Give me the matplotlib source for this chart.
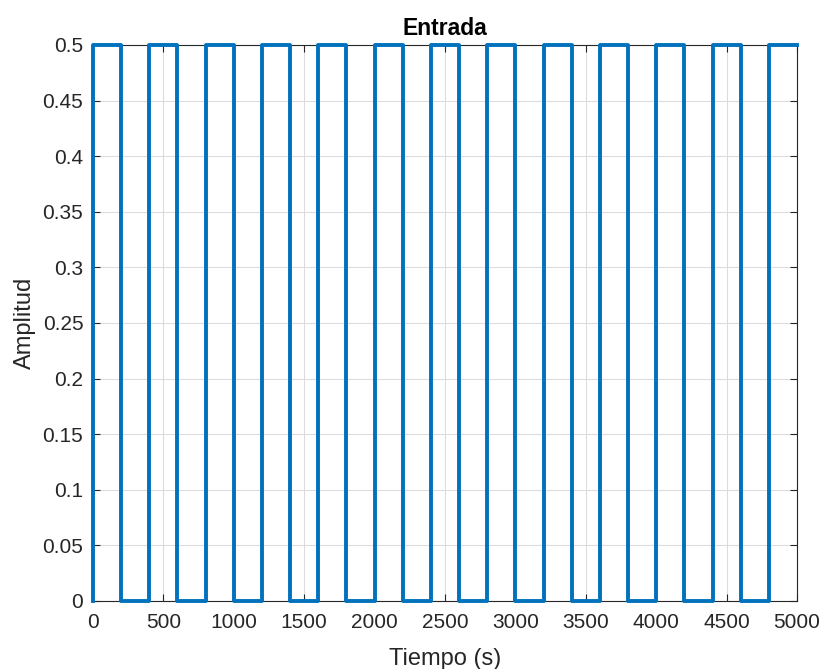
import matplotlib
matplotlib.use("Agg")
import matplotlib.pyplot as plt

plt.rcParams['font.family'] = ['Liberation Sans', 'DejaVu Sans']

# Switching instants of the input pulse train (s) and the level held after each one
switch_times = [0, 0, 200, 400, 600, 800, 1000, 1200, 1400, 1600, 1800, 2000, 2200,
                2400, 2600, 2800, 3000, 3200, 3400, 3600, 3800, 4000, 4200, 4400,
                4600, 4800, 5000]
levels = [0, 0.5, 0, 0.5, 0, 0.5, 0, 0.5, 0, 0.5, 0, 0.5, 0,
          0.5, 0, 0.5, 0, 0.5, 0, 0.5, 0, 0.5, 0, 0.5,
          0, 0.5, 0.5]

x_ticks = [0, 500, 1000, 1500, 2000, 2500, 3000, 3500, 4000, 4500, 5000]
y_ticks = [0, 0.05, 0.1, 0.15, 0.2, 0.25, 0.3, 0.35, 0.4, 0.45, 0.5]
y_labels = ['0', '0.05', '0.1', '0.15', '0.2', '0.25', '0.3', '0.35', '0.4', '0.45', '0.5']

fig = plt.figure(figsize=(8.21, 6.69), dpi=100)
ax = fig.add_axes([93 / 821, 1 - 601 / 669, (797 - 93) / 821, (601 - 45) / 669])

ax.step(switch_times, levels, where='post', color='#0072BD', linewidth=2.8,
        clip_on=False, zorder=3)

ax.set_xlim(0, 5000)
ax.set_ylim(0, 0.5)
ax.set_xticks(x_ticks)
ax.set_xticklabels([str(v) for v in x_ticks])
ax.set_yticks(y_ticks)
ax.set_yticklabels(y_labels)

ax.grid(True, color='#dcdcdc', linewidth=0.8)
ax.set_axisbelow(True)
for side in ax.spines.values():
    side.set_color('#262626')
    side.set_linewidth(0.8)
ax.tick_params(axis='y', direction='in', length=5, width=0.8, colors='#262626',
               labelsize=15, right=True, pad=7)
ax.tick_params(axis='x', direction='in', length=5, width=0.8, colors='#262626',
               labelsize=15, top=True, pad=9)

ax.set_title('Entrada', fontsize=16.5, fontweight='bold', color='black', pad=7)
ax.set_xlabel('Tiempo (s)', fontsize=17, color='#262626', labelpad=11)
ax.set_ylabel('Amplitud', fontsize=17, color='#262626', labelpad=5)

fig.savefig('out.png', dpi=100)
